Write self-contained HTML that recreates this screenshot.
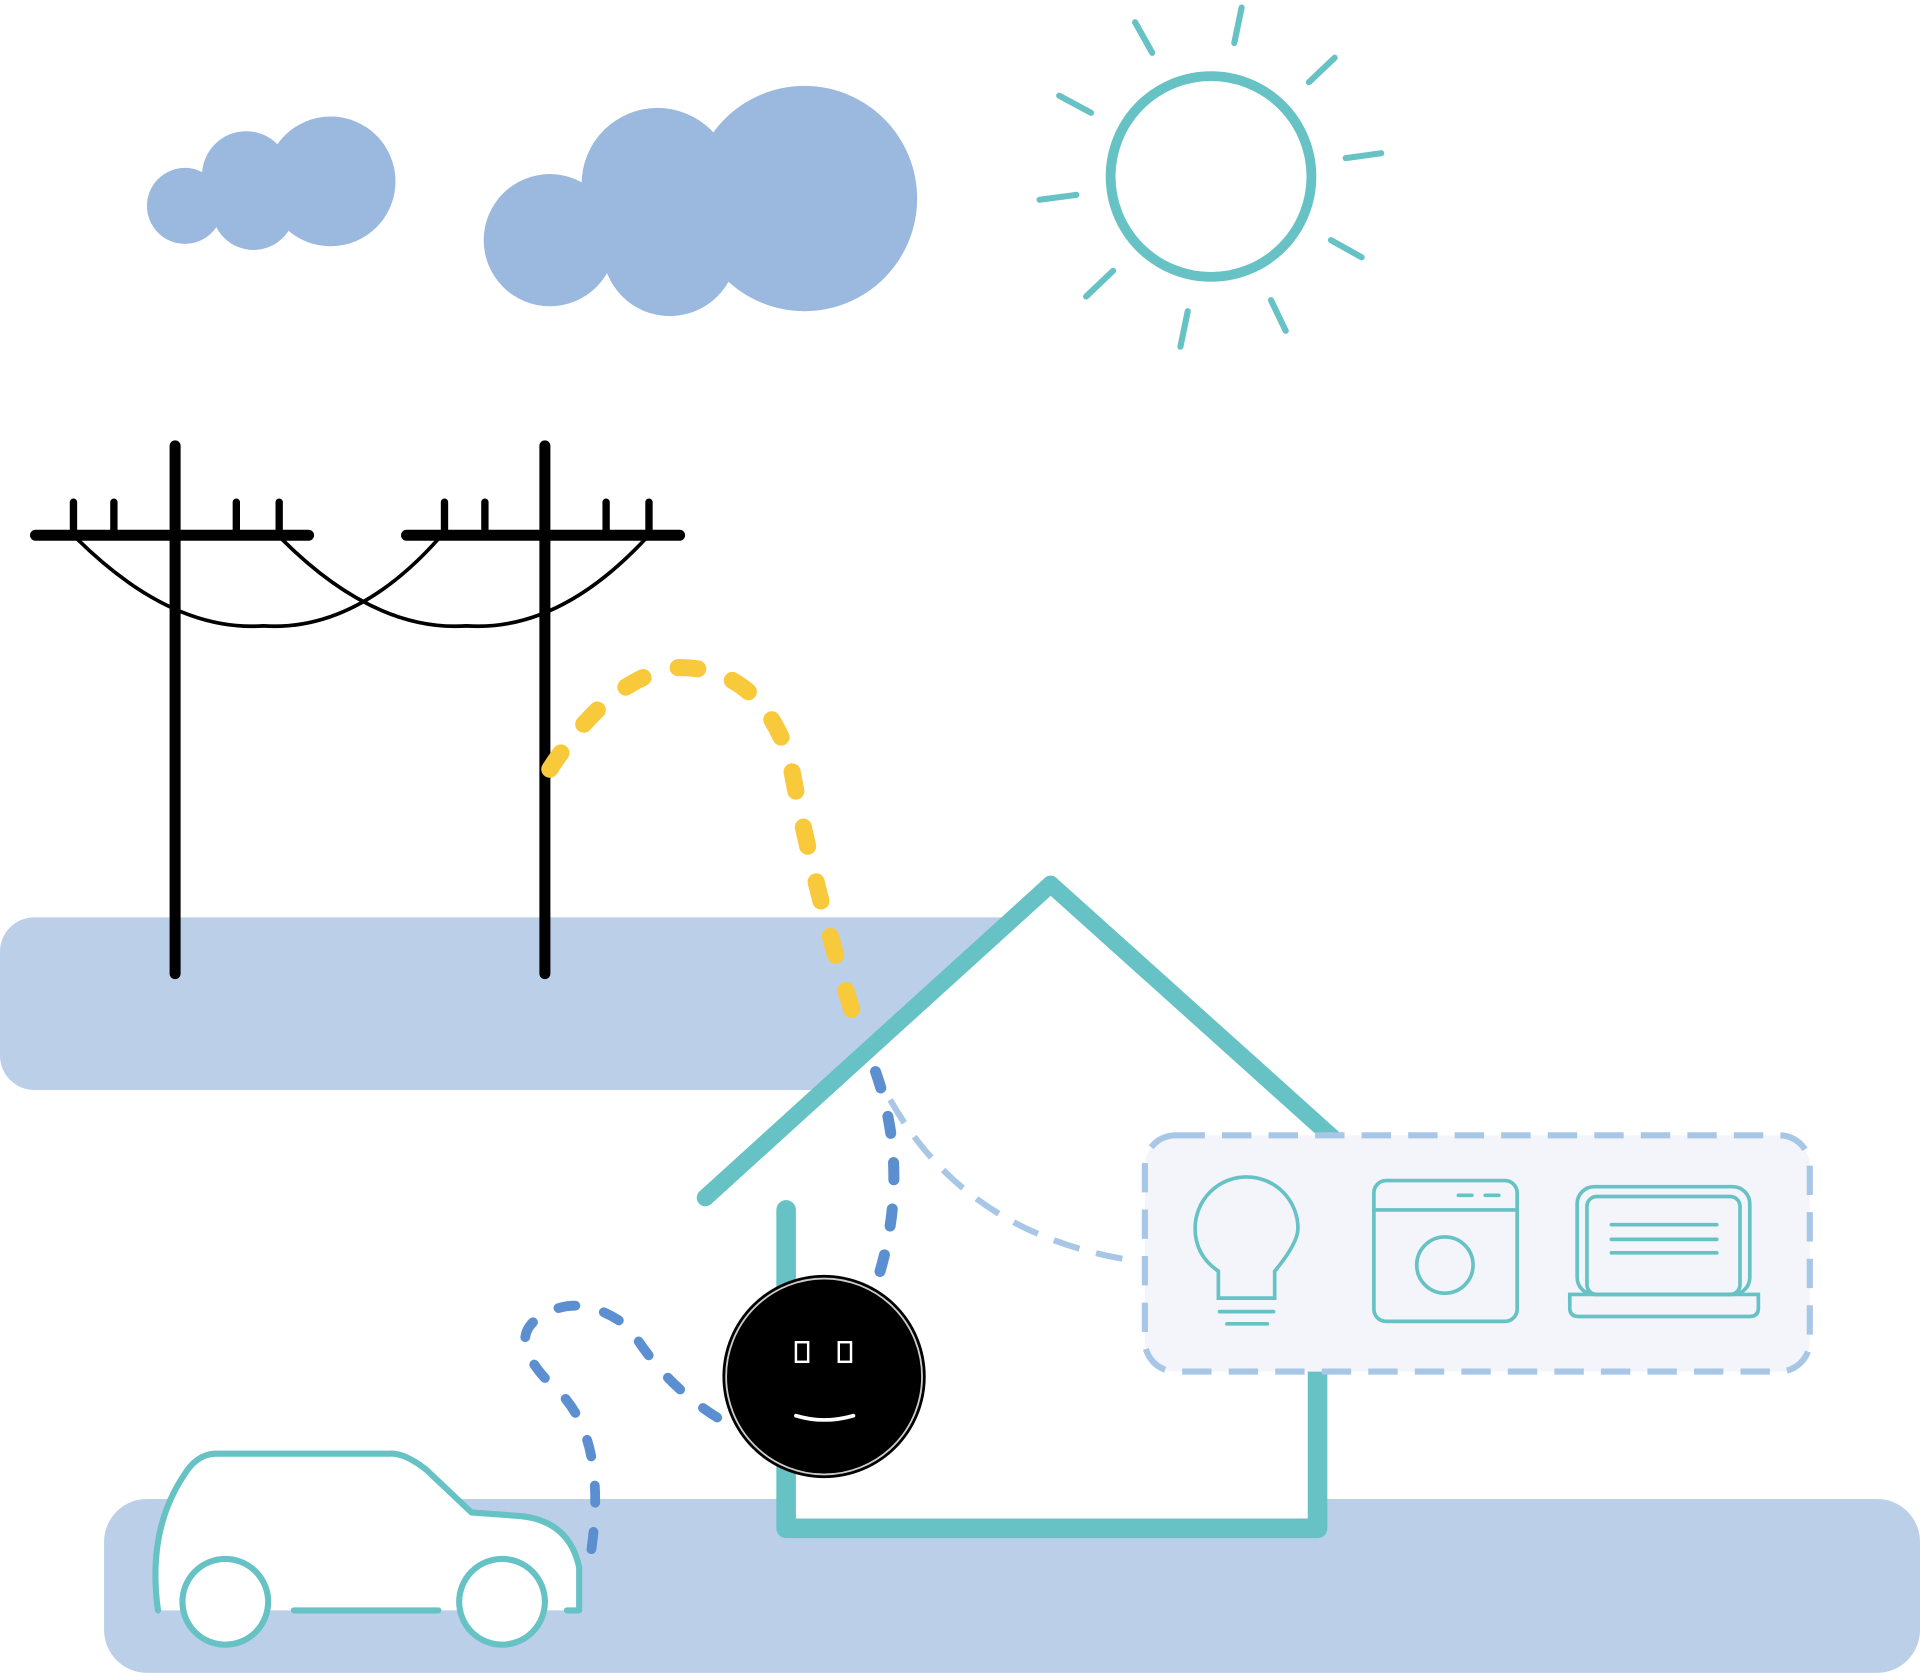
<!DOCTYPE html>
<html><head><meta charset="utf-8"><style>html,body{margin:0;padding:0;background:#fff}svg{display:block}</style></head>
<body>
<svg width="1920" height="1673" viewBox="0 0 1568 1366" xmlns="http://www.w3.org/2000/svg">
<g fill="#9bb9df">
<circle cx="151" cy="168" r="31"/><circle cx="201" cy="143" r="36"/><circle cx="207" cy="170" r="34"/><circle cx="270" cy="148" r="53"/>
<circle cx="449" cy="196" r="54"/><circle cx="537" cy="150" r="62"/><circle cx="547" cy="203" r="55"/><circle cx="657" cy="162" r="92"/>
</g>
<g stroke="#66c2c4" stroke-width="5" stroke-linecap="round" fill="none">
<circle cx="989" cy="144" r="82" stroke-width="8"/>
<line x1="1008" y1="35" x2="1014" y2="6"/><line x1="1069" y1="67" x2="1090" y2="47"/><line x1="1099" y1="129" x2="1128" y2="125"/>
<line x1="1087" y1="196" x2="1112" y2="210"/><line x1="1038" y1="245" x2="1050" y2="270"/><line x1="970" y1="254" x2="964" y2="283"/>
<line x1="909" y1="221" x2="887" y2="242"/><line x1="879" y1="159" x2="849" y2="163"/><line x1="891" y1="92" x2="865" y2="78"/>
<line x1="941" y1="43" x2="927" y2="18"/>
</g>
<rect x="0" y="749" width="870" height="141" rx="28" fill="#bbcfe8"/>
<rect x="85" y="1224" width="1483" height="142" rx="35" fill="#bbcfe8"/>
<g stroke="#000" stroke-linecap="round" fill="none">
<line x1="143" y1="364" x2="143" y2="795" stroke-width="9"/>
<line x1="29" y1="437" x2="252" y2="437" stroke-width="9"/>
<line x1="445" y1="364" x2="445" y2="795" stroke-width="9"/>
<line x1="332" y1="437" x2="555" y2="437" stroke-width="9"/>
<g stroke-width="6"><line x1="60" y1="410" x2="60" y2="437"/><line x1="93" y1="410" x2="93" y2="437"/><line x1="193" y1="410" x2="193" y2="437"/><line x1="228" y1="410" x2="228" y2="437"/>
<line x1="363" y1="410" x2="363" y2="437"/><line x1="396" y1="410" x2="396" y2="437"/><line x1="495" y1="410" x2="495" y2="437"/><line x1="530" y1="410" x2="530" y2="437"/></g>
<path d="M63 440 Q 140 516 215 511 Q 290 516 358 440" stroke-width="3"/>
<path d="M230 440 Q 306 516 381 511 Q 456 516 527 440" stroke-width="3"/>
</g>
<polygon points="576,978 858,722 1095,935 1076,935 1076,1248 642,1248 642,985" fill="#fff"/>
<g stroke="#66c2c4" stroke-linecap="round" stroke-linejoin="round" fill="none">
<polyline points="576,978 858,722 1095,935" stroke-width="14"/>
<polyline points="642,988 642,1248 1076,1248 1076,1120" stroke-width="16"/>
</g>
<path d="M449 628 Q 500 550 555 545 Q 620 545 645 620 Q 665 730 703 848" stroke="#f9c93c" stroke-width="14" fill="none" stroke-linecap="round" stroke-dasharray="16 30"/>
<path d="M715 875 Q 745 960 715 1050" stroke="#5b8fd0" stroke-width="9" fill="none" stroke-linecap="round" stroke-dasharray="14 24"/>
<path d="M727 898 Q 790 1010 930 1030" stroke="#a8c6e6" stroke-width="5" fill="none" stroke-dasharray="22 14"/>
<rect x="935" y="927" width="543" height="193" rx="25" fill="#f3f5fa" stroke="#a8c6e6" stroke-width="5" stroke-dasharray="24 14"/>
<g stroke="#66c2c4" stroke-width="3" fill="none" stroke-linecap="round">
<path d="M995 1060 L995 1038 Q 976 1025 976 1003 A 42 42 0 0 1 1060 1003 Q 1060 1015 1041 1038 L1041 1060 Z"/>
<line x1="996" y1="1071" x2="1040" y2="1071"/><line x1="1002" y1="1081" x2="1035" y2="1081"/>
<rect x="1122" y="964" width="117" height="115" rx="10"/><line x1="1122" y1="988" x2="1239" y2="988"/>
<line x1="1191" y1="976" x2="1202" y2="976"/><line x1="1213" y1="976" x2="1224" y2="976"/>
<circle cx="1180" cy="1033" r="23"/>
<rect x="1288" y="969" width="141" height="88" rx="14"/><rect x="1296" y="977" width="125" height="80" rx="8"/>
<path d="M1282 1057 L1436 1057 L1436 1068 Q1436 1075 1429 1075 L1289 1075 Q1282 1075 1282 1068 Z"/>
<line x1="1316" y1="1000" x2="1402" y2="1000"/><line x1="1316" y1="1012" x2="1402" y2="1012"/><line x1="1316" y1="1023" x2="1402" y2="1023"/>
</g>
<path d="M483 1265 Q 495 1180 460 1140 Q 415 1100 435 1080 Q 470 1050 515 1085 Q 545 1135 595 1163" stroke="#5b8fd0" stroke-width="8" fill="none" stroke-linecap="round" stroke-dasharray="14 24"/>
<circle cx="673" cy="1124" r="83" fill="#000"/>
<circle cx="673" cy="1124" r="80" fill="none" stroke="#ccc" stroke-width="1.5"/>
<g stroke="#fff" stroke-width="2" fill="none"><rect x="650" y="1096" width="10" height="16"/><rect x="685" y="1096" width="10" height="16"/></g>
<path d="M650 1156 Q 673 1163 697 1156" stroke="#fff" stroke-width="3" fill="none" stroke-linecap="round"/>
<g stroke="#66c2c4" stroke-width="5" stroke-linecap="round" stroke-linejoin="round">
<path d="M129 1315 Q 120 1250 150 1205 Q 160 1188 175 1187 L318 1187 Q 330 1186 348 1200 L385 1235 L425 1238 Q 465 1242 473 1280 L473 1315 L463 1315" fill="#fff"/>
<line x1="240" y1="1315" x2="358" y2="1315" fill="none"/>
<circle cx="184" cy="1308" r="35" fill="#fff"/><circle cx="410" cy="1308" r="35" fill="#fff"/>
</g>
</svg>
</body></html>
